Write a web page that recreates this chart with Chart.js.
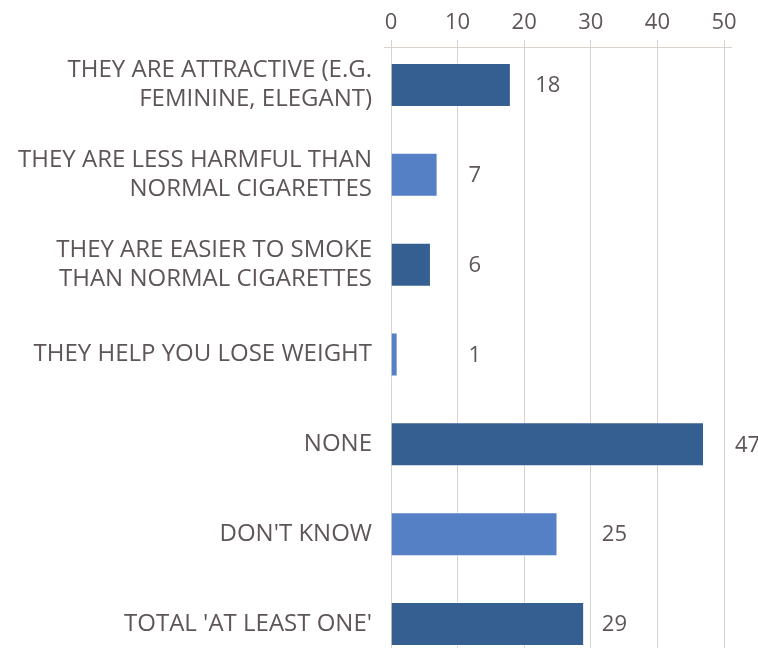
<!DOCTYPE html>
<html>
<head>
<meta charset="utf-8">
<script src="https://cdn.jsdelivr.net/npm/chart.js@4.4.1/dist/chart.umd.min.js"></script>
<style>
  html, body { margin: 0; padding: 0; background: #fff; overflow: hidden; }
  #chart { display: block; }
</style>
</head>
<body>
<canvas id="chart" width="758" height="669"></canvas>
<script>
var categories = [
    ["THEY ARE ATTRACTIVE (E.G.", "FEMININE, ELEGANT)"],
    ["THEY ARE LESS HARMFUL THAN", "NORMAL CIGARETTES"],
    ["THEY ARE EASIER TO SMOKE", "THAN NORMAL CIGARETTES"],
    "THEY HELP YOU LOSE WEIGHT",
    "NONE",
    "DON'T KNOW",
    "TOTAL 'AT LEAST ONE'"
];
var values = [18, 7, 6, 1, 47, 25, 29];
var tickValues = [0, 10, 20, 30, 40, 50];

var textColor = '#5e5558';
var gridColor = '#d9d2cc';
var fontFamily = "'Open Sans', 'Noto Sans', sans-serif";

// top axis line sits a bit below the top of the grid lines
var axisLine = {
    id: 'axisLine',
    beforeDatasetsDraw: function (chart) {
        var ctx = chart.ctx;
        var area = chart.chartArea;
        ctx.save();
        ctx.strokeStyle = gridColor;
        ctx.lineWidth = 1;
        ctx.beginPath();
        ctx.moveTo(area.left - 7, area.top + 7.5);
        ctx.lineTo(area.right + 8, area.top + 7.5);
        ctx.stroke();
        ctx.restore();
    }
};

// value labels, placed just past the next grid line after the bar end
var valueLabels = {
    id: 'valueLabels',
    afterDatasetsDraw: function (chart) {
        var ctx = chart.ctx;
        var xScale = chart.scales.x;
        var meta = chart.getDatasetMeta(0);
        ctx.save();
        ctx.fillStyle = textColor;
        ctx.font = '22px ' + fontFamily;
        ctx.textAlign = 'left';
        ctx.textBaseline = 'middle';
        meta.data.forEach(function (bar, i) {
            var v = values[i];
            var x = xScale.getPixelForValue(Math.ceil(v / 10) * 10) + 11;
            ctx.fillText(String(v), x, bar.y + 1);
        });
        ctx.restore();
    }
};

var ctx = document.getElementById('chart').getContext('2d');
var chart = new Chart(ctx, {
    type: 'bar',
    data: {
        labels: categories,
        datasets: [{
            data: values,
            backgroundColor: values.map(function (v, i) {
                return i % 2 === 0 ? '#355f90' : '#5580c6';
            }),
            borderColor: 'rgba(255,255,255,0.5)',
            borderWidth: 1,
            categoryPercentage: 1,
            barPercentage: 0.49
        }]
    },
    options: {
        indexAxis: 'y',
        responsive: false,
        animation: false,
        layout: { padding: { top: 0, right: 34, bottom: 0, left: 0 } },
        plugins: {
            legend: { display: false },
            tooltip: { enabled: false }
        },
        scales: {
            x: {
                position: 'top',
                min: 0,
                max: 50,
                afterBuildTicks: function (scale) {
                    scale.ticks = tickValues.map(function (v) { return { value: v }; });
                },
                afterFit: function (scale) {
                    scale.height = 40;
                    scale.paddingLeft = 0;
                    scale.paddingRight = 0;
                },
                grid: { color: gridColor, drawTicks: false, lineWidth: 1 },
                border: { display: false },
                ticks: {
                    color: textColor,
                    padding: 4,
                    font: { family: fontFamily, size: 22 }
                }
            },
            y: {
                afterFit: function (scale) {
                    scale.width = 391;
                    scale.paddingTop = 0;
                    scale.paddingBottom = 0;
                },
                grid: { display: false, drawTicks: false },
                border: { display: false },
                ticks: {
                    color: textColor,
                    padding: 19,
                    font: { family: fontFamily, size: 24, lineHeight: 1.22 }
                }
            }
        }
    },
    plugins: [axisLine, valueLabels]
});
</script>
</body>
</html>
